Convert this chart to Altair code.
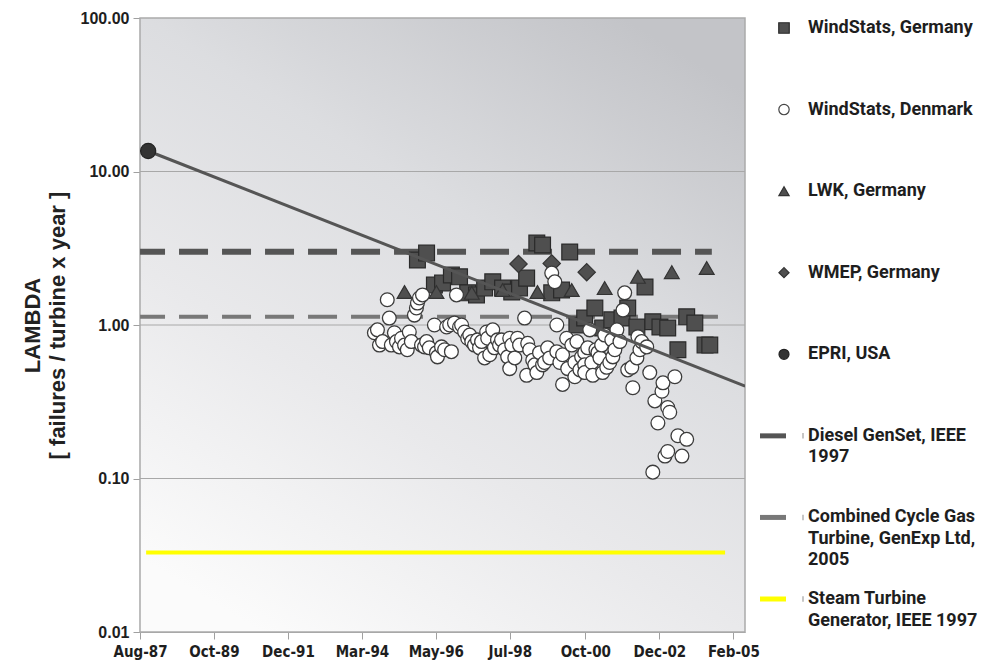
import altair as alt
import pandas as pd

# ---------------------------------------------------------------------------
# Failure rates (failures / turbine x year) against time, as decimal years
# ---------------------------------------------------------------------------
germany_year = [1995.80, 1996.07, 1996.30, 1996.54, 1996.80, 1997.04, 1997.28, 1997.54,
                1997.78, 1998.02, 1998.31, 1998.58, 1998.81, 1999.02, 1999.32, 1999.49,
                1999.76, 2000.05, 2000.29, 2000.50, 2000.73, 2001.03, 2001.26, 2001.53,
                2001.83, 2002.00, 2002.27, 2002.51, 2002.74, 2002.95, 2003.18, 2003.48,
                2003.74, 2003.98, 2004.28, 2004.42]
germany_lambda = [2.65, 2.94, 1.82, 1.88, 2.12, 2.06, 1.62, 1.57,
                  1.74, 1.91, 1.74, 1.64, 1.74, 2.02, 3.42, 3.32,
                  1.62, 1.69, 2.99, 1.00, 1.11, 1.29, 0.955, 1.08,
                  1.11, 1.29, 0.97, 1.77, 1.05, 0.97, 0.955, 0.69,
                  1.13, 1.03, 0.74, 0.74]

denmark_year = [1994.53, 1994.62, 1994.68, 1994.77, 1994.91, 1994.97, 1995.03, 1995.12,
                1995.18, 1995.27, 1995.33, 1995.42, 1995.50, 1995.56, 1995.62, 1995.71,
                1995.77, 1995.80, 1995.86, 1995.92, 1995.95, 1996.01, 1996.07, 1996.15,
                1996.30, 1996.36, 1996.39, 1996.51, 1996.60, 1996.66, 1996.75, 1996.80,
                1996.89, 1996.95, 1997.04, 1997.10, 1997.19, 1997.28, 1997.34, 1997.40,
                1997.48, 1997.57, 1997.63, 1997.69, 1997.78, 1997.84, 1997.87, 1997.93,
                1998.02, 1998.07, 1998.16, 1998.22, 1998.28, 1998.37, 1998.46, 1998.52,
                1998.52, 1998.58, 1998.67, 1998.75, 1998.81, 1998.96, 1999.02, 1999.05,
                1999.11, 1999.20, 1999.26, 1999.32, 1999.40, 1999.49, 1999.55, 1999.64,
                1999.70, 1999.76, 1999.85, 1999.91, 1999.91, 2000.00, 2000.08, 2000.08,
                2000.20, 2000.23, 2000.35, 2000.44, 2000.44, 2000.50, 2000.59, 2000.64,
                2000.73, 2000.73, 2000.73, 2000.82, 2000.88, 2000.94, 2000.97, 2001.06,
                2001.12, 2001.18, 2001.23, 2001.26, 2001.32, 2001.38, 2001.47, 2001.53,
                2001.56, 2001.62, 2001.68, 2001.77, 2001.86, 2001.91, 2002.00, 2002.12,
                2002.15, 2002.27, 2002.30, 2002.36, 2002.41, 2002.56, 2002.65, 2002.80,
                2002.89, 2003.01, 2003.04, 2003.18, 2003.24, 2003.39, 2003.48, 2003.74,
                2003.10, 2003.18, 2003.60, 2002.74]
denmark_lambda = [0.89, 0.93, 0.74, 0.78, 1.46, 1.11, 0.74, 0.89,
                  0.78, 0.72, 0.82, 0.74, 0.69, 0.90, 0.78, 1.16,
                  1.29, 1.39, 1.50, 0.74, 1.57, 0.72, 0.78, 0.71,
                  1.00, 0.66, 0.62, 0.72, 0.69, 0.97, 1.00, 0.67,
                  1.03, 1.57, 0.97, 1.00, 0.90, 0.82, 0.86, 0.78,
                  0.74, 0.80, 0.71, 0.78, 0.61, 0.90, 0.82, 0.64,
                  0.93, 0.71, 0.80, 0.74, 0.80, 0.69, 0.62, 0.82,
                  0.52, 0.74, 0.61, 0.82, 0.74, 1.11, 0.47, 0.76,
                  0.69, 0.59, 0.55, 0.49, 0.66, 0.55, 0.57, 0.71,
                  0.61, 2.18, 1.91, 1.00, 0.67, 0.57, 0.64, 0.41,
                  0.82, 0.52, 0.74, 0.57, 0.46, 0.78, 0.51, 0.62,
                  0.66, 0.55, 0.49, 0.71, 0.93, 0.57, 0.47, 0.69,
                  0.66, 0.61, 0.74, 0.49, 0.86, 0.53, 0.57, 0.80,
                  0.62, 0.69, 0.93, 0.78, 1.25, 1.62, 0.51, 0.53,
                  0.39, 0.61, 0.84, 0.69, 0.78, 0.72, 0.49, 0.32,
                  0.23, 0.37, 0.42, 0.29, 0.27, 0.46, 0.19, 0.18,
                  0.14, 0.15, 0.14, 0.11]

lwk_year = [1995.42, 1996.36, 1997.40, 1998.31, 1999.34, 2000.35, 2001.32, 2002.30,
            2003.30, 2004.33]
lwk_lambda = [1.64, 1.64, 1.62, 1.69, 1.64, 1.69, 1.74, 2.06, 2.21, 2.35]

wmep_year = [1998.78, 1999.76, 2000.79]
wmep_lambda = [2.50, 2.52, 2.21]

epri_year = [1987.86]
epri_lambda = [13.6]

# exponential trend through the EPRI value
trend_year = [1987.86, 2005.46]
trend_lambda = [13.6, 0.40]

# reference levels for other generating plant
diesel_year = [1987.62, 2004.48]
diesel_lambda = [3.0, 3.0]
ccgt_year = [1987.62, 2004.66]
ccgt_lambda = [1.13, 1.13]
steam_year = [1987.80, 2004.87]
steam_lambda = [0.033, 0.033]

legend_labels = [
    "WindStats, Germany",
    "WindStats, Denmark",
    "LWK, Germany",
    "WMEP, Germany",
    "EPRI, USA",
    "Diesel GenSet, IEEE\n1997",
    "Combined Cycle Gas\nTurbine, GenExp Ltd,\n2005",
    "Steam Turbine\nGenerator, IEEE 1997",
]
y_ticks = [0.01, 0.1, 1, 10, 100]
grid_levels = [0.1, 1, 10]
x_ticks = [(1987, 8, 15), (1989, 10, 20), (1991, 12, 25), (1994, 3, 1), (1996, 5, 5),
           (1998, 7, 10), (2000, 10, 1), (2002, 12, 8), (2005, 2, 12)]
x_domain = [(1987, 8, 15), (2005, 6, 17)]

AXIS_FONT = "Liberation Sans Narrow, Arial Narrow, DejaVu Sans Condensed, sans-serif"
LABEL_FONT = "Liberation Sans, Arial, sans-serif"
LEGEND_FONT = "Roboto, Liberation Sans, sans-serif"
DARK = "#4f4f4f"


def to_date(yr):
    y = int(yr)
    start = pd.Timestamp(year=y, month=1, day=1)
    end = pd.Timestamp(year=y + 1, month=1, day=1)
    return (start + (end - start) * (yr - y)).strftime("%Y-%m-%dT%H:%M:%S")


def frame(years, values):
    return pd.DataFrame({"date": [to_date(v) for v in years], "lam": values})


def dt(t):
    return alt.DateTime(year=t[0], month=t[1], date=t[2])


x_enc = alt.X(
    "date:T",
    scale=alt.Scale(domain=[dt(t) for t in x_domain]),
    axis=alt.Axis(values=[dt(t) for t in x_ticks], format="%b-%y", title=None,
                  grid=False, labelFont=AXIS_FONT, labelFontSize=15, labelFontWeight="bold",
                  labelColor="#1e1e1e", labelPadding=5, tickSize=7,
                  labelFlush=False, labelOverlap=False),
)
y_enc = alt.Y(
    "lam:Q",
    scale=alt.Scale(type="log", domain=[0.01, 100]),
    axis=alt.Axis(values=y_ticks, format=".2f",
                  title=["LAMBDA", "[ failures / turbine x year ]"],
                  titleFont=LABEL_FONT, titleFontSize=22,
                  titleFontWeight="bold", titleColor="#222222", titlePadding=11,
                  titleLineHeight=25,
                  labelFont=LABEL_FONT, labelFontSize=16,
                  labelFontWeight="bold", labelColor="#1e1e1e", labelPadding=4,
                  tickSize=7, grid=False),
)

# light at the bottom left, darkening towards the top right
background = alt.LinearGradient(
    gradient="linear",
    stops=[alt.GradientStop(offset=0, color="#fbfbfb"),
           alt.GradientStop(offset=0.35, color="#e9e9eb"),
           alt.GradientStop(offset=0.65, color="#dcdde0"),
           alt.GradientStop(offset=1, color="#c3c4c8")],
    x1=0.2, y1=1, x2=0.8, y2=0,
)

# shaded plotting area with its frame
panel = alt.Chart(pd.DataFrame({"k": [0]})).mark_rect(
    fill=background, stroke="#ababab", strokeWidth=1.5
).encode(x=alt.value(0), x2=alt.value("width"), y=alt.value(0), y2=alt.value("height"))

grid = alt.Chart(pd.DataFrame({"lam": grid_levels})).mark_rule(
    color="#a8a8a8", strokeWidth=1
).encode(y=y_enc)


def level_line(years, values, color, width, dash=None):
    kw = dict(color=color, strokeWidth=width, clip=True)
    if dash:
        kw["strokeDash"] = dash
        kw["strokeDashOffset"] = 4
    return alt.Chart(frame(years, values)).mark_line(**kw).encode(x=x_enc, y=y_enc)


def points(years, values, shape, fill, stroke, size, width=1.2):
    return alt.Chart(frame(years, values)).mark_point(
        shape=shape, filled=True, fill=fill, stroke=stroke, strokeWidth=width,
        size=size, opacity=1,
    ).encode(x=x_enc, y=y_enc)


steam = level_line(steam_year, steam_lambda, "#ffff00", 4)
ccgt = level_line(ccgt_year, ccgt_lambda, "#787878", 4, [29, 14])
diesel = level_line(diesel_year, diesel_lambda, "#555555", 6, [29, 14])

germany = points(germany_year, germany_lambda, "square", DARK, "#2a2a2a", 250)
lwk = points(lwk_year, lwk_lambda, "triangle-up", DARK, "#333333", 220)
wmep = points(wmep_year, wmep_lambda, "diamond", DARK, "#333333", 300)
denmark = points(denmark_year, denmark_lambda, "circle", "#ffffff", "#3c3c3c", 190, 1.3)
trend = level_line(trend_year, trend_lambda, "#555555", 3)
epri = points(epri_year, epri_lambda, "circle", "#333333", "#222222", 230)

main = alt.layer(panel, grid, steam, ccgt, diesel, germany, lwk, wmep, denmark, trend, epri)

# ---- legend column on the right ----------------------------------------------
marker_names = legend_labels[:5]
line_names = legend_labels[5:]
legend_y = alt.Y("entry:N", scale=alt.Scale(type="point", domain=legend_labels,
                                            range=[10, 581], padding=0), axis=None)

legend_markers = alt.Chart(pd.DataFrame({"entry": marker_names})).mark_point(
    filled=True, strokeWidth=1.2, opacity=1
).encode(
    x=alt.value(644),
    y=legend_y,
    shape=alt.Shape("entry:N", scale=alt.Scale(
        domain=marker_names,
        range=["square", "circle", "triangle-up", "diamond", "circle"]), legend=None),
    fill=alt.Fill("entry:N", scale=alt.Scale(
        domain=marker_names,
        range=[DARK, "#ffffff", DARK, DARK, "#333333"]), legend=None),
    stroke=alt.Stroke("entry:N", scale=alt.Scale(
        domain=marker_names,
        range=["#2a2a2a", "#444444", "#333333", "#333333", "#222222"]), legend=None),
    size=alt.Size("entry:N", scale=alt.Scale(
        domain=marker_names, range=[110, 100, 130, 120, 150]), legend=None),
)

legend_lines = alt.Chart(pd.DataFrame({"entry": line_names})).mark_rule(
    strokeWidth=5
).encode(
    x=alt.value(620),
    x2=alt.value(646),
    y=legend_y,
    color=alt.Color("entry:N", scale=alt.Scale(
        domain=line_names, range=["#555555", "#787878", "#ffff00"]), legend=None),
)

legend_ticks = alt.Chart(pd.DataFrame({"entry": line_names})).mark_point(
    shape="M0,-1L0,1", stroke="#a0a0a0", strokeWidth=1.2, size=30, opacity=1
).encode(x=alt.value(663), y=legend_y)

legend_text = alt.Chart(pd.DataFrame({"entry": legend_labels})).mark_text(
    align="left", baseline="top", dy=-9, lineBreak="\n", lineHeight=21.5,
    font=LEGEND_FONT, fontSize=18, fontWeight="bold", color="#1e1e1e",
).encode(x=alt.value(668), y=legend_y, text="entry:N")

legend = alt.layer(legend_lines, legend_ticks, legend_markers, legend_text)

chart = alt.layer(main, legend).resolve_scale(
    y="independent"
).properties(
    width=605, height=614,
    padding={"left": 140, "top": 18, "right": 249, "bottom": 33},
    autosize=alt.AutoSizeParams(type="none"),
    background="#ffffff",
).configure_view(
    stroke=None,
).configure_axis(
    domainColor="#a0a0a0", tickColor="#a0a0a0", domainWidth=1.2,
)

chart.save("out.html", embed_options={"renderer": "svg", "actions": False})
